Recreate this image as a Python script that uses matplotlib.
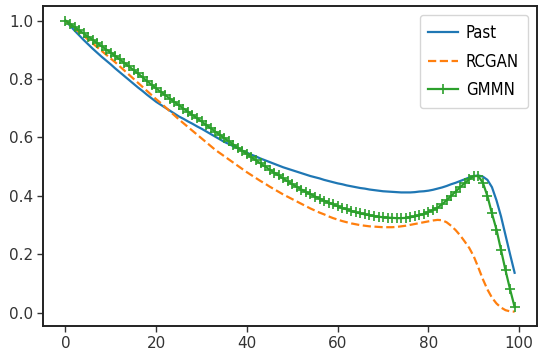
import matplotlib
matplotlib.use("Agg")
import matplotlib.pyplot as plt
import numpy as np

steps = list(range(100))

past = [1.000, 0.983, 0.966, 0.950, 0.934, 0.919, 0.904, 0.890, 0.876, 0.863,
        0.850, 0.836, 0.823, 0.810, 0.797, 0.784, 0.771, 0.759, 0.746, 0.734,
        0.722, 0.712, 0.702, 0.692, 0.682, 0.672, 0.664, 0.655, 0.647, 0.638,
        0.630, 0.621, 0.612, 0.603, 0.594, 0.585, 0.578, 0.570, 0.563, 0.555,
        0.548, 0.541, 0.535, 0.528, 0.522, 0.516, 0.510, 0.504, 0.498, 0.493,
        0.488, 0.483, 0.478, 0.473, 0.468, 0.464, 0.460, 0.455, 0.451, 0.447,
        0.443, 0.440, 0.436, 0.433, 0.430, 0.427, 0.425, 0.422, 0.420, 0.418,
        0.416, 0.415, 0.414, 0.413, 0.412, 0.412, 0.412, 0.413, 0.415, 0.416,
        0.418, 0.421, 0.425, 0.429, 0.434, 0.440, 0.445, 0.451, 0.457, 0.463,
        0.468, 0.470, 0.466, 0.455, 0.430, 0.385, 0.330, 0.265, 0.200, 0.137]

rcgan = [1.000, 0.987, 0.974, 0.961, 0.948, 0.935, 0.922, 0.909, 0.896, 0.883,
         0.870, 0.857, 0.843, 0.829, 0.815, 0.801, 0.787, 0.773, 0.759, 0.745,
         0.731, 0.718, 0.704, 0.690, 0.676, 0.662, 0.649, 0.636, 0.623, 0.610,
         0.597, 0.584, 0.571, 0.558, 0.547, 0.536, 0.525, 0.514, 0.503, 0.492,
         0.481, 0.471, 0.461, 0.451, 0.442, 0.432, 0.423, 0.414, 0.405, 0.397,
         0.389, 0.381, 0.373, 0.365, 0.357, 0.350, 0.343, 0.337, 0.330, 0.324,
         0.319, 0.314, 0.310, 0.306, 0.303, 0.300, 0.298, 0.296, 0.295, 0.294,
         0.293, 0.293, 0.293, 0.294, 0.296, 0.298, 0.301, 0.304, 0.307, 0.310,
         0.313, 0.316, 0.318, 0.317, 0.310, 0.298, 0.283, 0.265, 0.244, 0.222,
         0.193, 0.155, 0.115, 0.080, 0.052, 0.032, 0.018, 0.009, 0.005, 0.004]

gmmn = [1.000, 0.989, 0.978, 0.967, 0.956, 0.945, 0.934, 0.923, 0.912, 0.901,
        0.890, 0.879, 0.867, 0.855, 0.843, 0.831, 0.819, 0.806, 0.793, 0.780,
        0.768, 0.756, 0.745, 0.733, 0.722, 0.710, 0.699, 0.688, 0.677, 0.666,
        0.655, 0.643, 0.632, 0.620, 0.609, 0.598, 0.587, 0.576, 0.565, 0.554,
        0.543, 0.532, 0.522, 0.511, 0.501, 0.490, 0.480, 0.470, 0.460, 0.450,
        0.440, 0.431, 0.422, 0.414, 0.406, 0.398, 0.391, 0.384, 0.377, 0.371,
        0.365, 0.359, 0.354, 0.349, 0.344, 0.340, 0.337, 0.334, 0.331, 0.329,
        0.327, 0.326, 0.325, 0.324, 0.324, 0.325, 0.327, 0.330, 0.334, 0.339,
        0.345, 0.352, 0.360, 0.371, 0.385, 0.400, 0.415, 0.430, 0.444, 0.457,
        0.468, 0.468, 0.445, 0.400, 0.340, 0.285, 0.215, 0.145, 0.080, 0.020]

fig = plt.figure(figsize=(5.4, 3.63), dpi=100)
ax = fig.add_axes([0.0796, 0.102, 0.915, 0.8815])

ax.plot(steps, past, color="#1f77b4", lw=1.6, label="Past")
ax.plot(steps, rcgan, color="#ff7f0e", lw=1.6, ls="--", label="RCGAN")
ax.plot(steps, gmmn, color="#2ca02c", lw=1.6, marker="+", ms=7.5, mew=1.2, label="GMMN")

ax.set_xticks([0, 20, 40, 60, 80, 100])
ax.set_yticks([0.0, 0.2, 0.4, 0.6, 0.8, 1.0])
ax.set_ylim(-0.045, 1.05)
for s in ax.spines.values():
    s.set_linewidth(1.4)
    s.set_color("#222222")
ax.tick_params(colors="#333333", labelsize=11, length=4, width=1, pad=3)
ax.legend(loc="upper right", labelspacing=0.64, borderpad=0.53,
          borderaxespad=0.55, handletextpad=0.5, handlelength=1.75,
          prop={"family": "DejaVu Sans", "stretch": "condensed", "size": 12})

fig.savefig("out.png", dpi=100)
